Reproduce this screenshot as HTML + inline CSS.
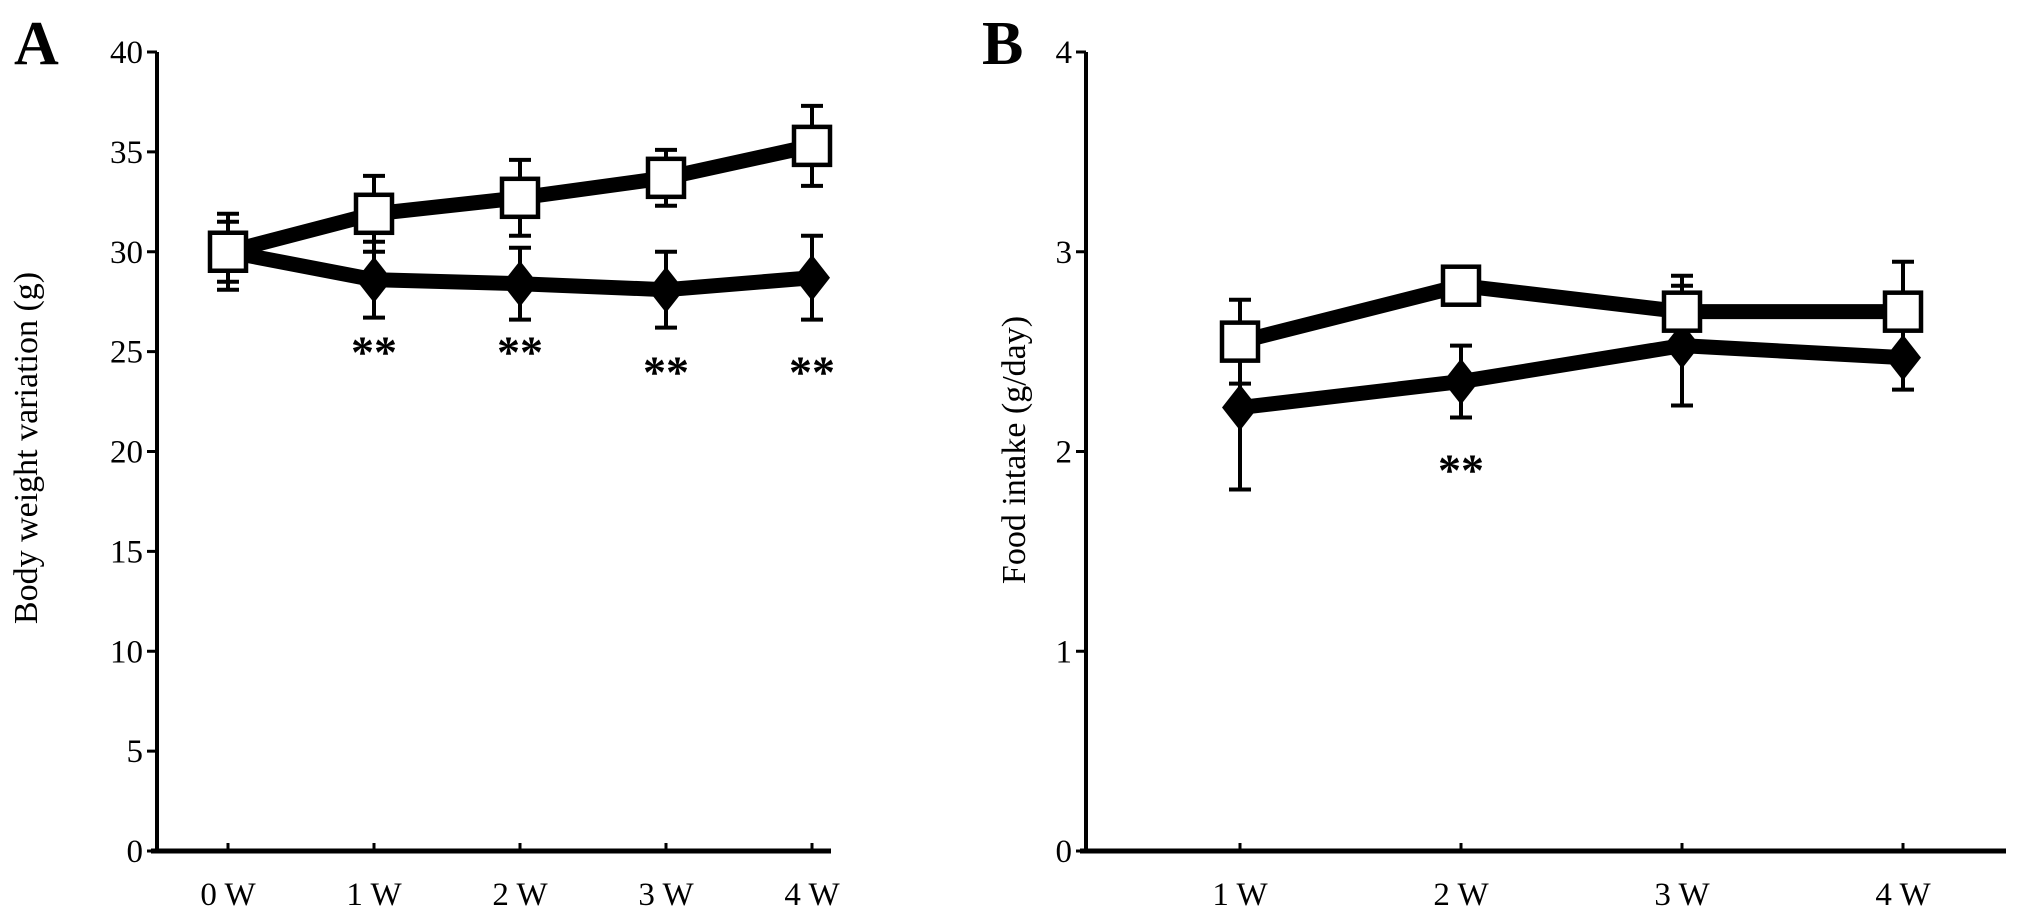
<!DOCTYPE html>
<html><head><meta charset="utf-8"><style>
html,body{margin:0;padding:0;background:#fff}
svg{display:block}
text{font-family:"Liberation Serif",serif;fill:#000}
</style></head><body>
<svg id="fig" width="2031" height="914" viewBox="0 0 2031 914">
<text x="14" y="64" font-size="62" font-weight="bold">A</text>
<text x="982" y="64" font-size="62" font-weight="bold">B</text>
<text transform="translate(37,448) rotate(-90)" text-anchor="middle" font-size="34">Body weight variation (g)</text>
<text transform="translate(1025,450) rotate(-90)" text-anchor="middle" font-size="34">Food intake (g/day)</text>
</svg>
<script>
// Panel A data
const catsA = ["0 W","1 W","2 W","3 W","4 W"];
const ctrlA = [30.0, 31.9, 32.7, 33.7, 35.3];
const ctrlErrA = [1.5, 1.9, 1.9, 1.4, 2.0];
const trtA = [30.0, 28.6, 28.4, 28.1, 28.7];
const trtErrA = [1.9, 1.9, 1.8, 1.9, 2.1];
const ticksA = [0,5,10,15,20,25,30,35,40];
const starsA = [null, 25.2, 25.2, 24.2, 24.2];
// Panel B data
const catsB = ["1 W","2 W","3 W","4 W"];
const ctrlB = [2.55, 2.83, 2.70, 2.70];
const ctrlErrB = [0.21, 0.09, 0.18, 0.25];
const trtB = [2.22, 2.35, 2.53, 2.47];
const trtErrB = [0.41, 0.18, 0.30, 0.16];
const ticksB = [0,1,2,3,4];
const starsB = [null, 1.93, null, null];

const NS="http://www.w3.org/2000/svg";
const svg=document.getElementById('fig');
function mk(tag,attrs,parent){const e=document.createElementNS(NS,tag);for(const k in attrs)e.setAttribute(k,attrs[k]);(parent||svg).appendChild(e);return e;}

function panel(p){
  const g=mk('g',{});
  
  
  const y=v=>851-(v-p.ymin)/(p.ymax-p.ymin)*799;
  const x=i=>p.x0+i*p.dx;
  const ya=mk('line',{x1:p.ax,y1:52,x2:p.ax,y2:853,stroke:'#000','stroke-width':4},g);
  
  
  const xa=mk('line',{x1:p.ax-6,y1:851,x2:p.xend,y2:851,stroke:'#000','stroke-width':5},g);
  
  
  p.ticks.forEach(t=>{
    mk('line',{x1:p.ax-10,y1:y(t),x2:p.ax,y2:y(t),stroke:'#000','stroke-width':3},g);
    const tx=mk('text',{x:p.ax-14,y:y(t)+11,'text-anchor':'end','font-size':33},g);
    tx.textContent=t;
    
    
  });
  p.cats.forEach((c,i)=>{
    mk('line',{x1:x(i),y1:851,x2:x(i),y2:843,stroke:'#000','stroke-width':3},g);
    const tx=mk('text',{x:x(i),y:905,'text-anchor':'middle','font-size':33},g);
    tx.textContent=c;
    
    
  });
  function err(vals,errs,name){
    vals.forEach((v,i)=>{
      const e=mk('path',{d:`M${x(i)},${y(v-errs[i])}V${y(v+errs[i])}M${x(i)-11},${y(v-errs[i])}h22M${x(i)-11},${y(v+errs[i])}h22`,stroke:'#000','stroke-width':4,fill:'none'},g);
      
      
    });
  }
  err(p.ctrl,p.ctrlErr,'control-error-bar');
  err(p.trt,p.trtErr,'treated-error-bar');
  function line(vals,name){
    const l=mk('polyline',{points:vals.map((v,i)=>x(i)+','+y(v)).join(' '),stroke:'#000','stroke-width':15,fill:'none','stroke-linejoin':'round'},g);
    
    
  }
  line(p.trt,'treated-line');
  line(p.ctrl,'control-line');
  p.trt.forEach((v,i)=>{
    const d=mk('path',{d:`M${x(i)},${y(v)-23}L${x(i)+18},${y(v)}L${x(i)},${y(v)+23}L${x(i)-18},${y(v)}Z`,fill:'#000'},g);
    
    
  });
  p.ctrl.forEach((v,i)=>{
    const s=mk('rect',{x:x(i)-18,y:y(v)-19,width:36,height:38,fill:'#fff',stroke:'#000','stroke-width':4.5},g);
    
    
  });
  p.stars.forEach((v,i)=>{
    if(v===null)return;
    const t=mk('text',{x:x(i),y:y(v)+20,'text-anchor':'middle','font-size':46,'font-weight':'bold','font-family':'Liberation Sans, sans-serif'},g);
    t.textContent='**';
    
    
  });
}
panel({name:'panel-a',ax:157,xend:831,x0:228,dx:146,ymin:0,ymax:40,ticks:ticksA,cats:catsA,ctrl:ctrlA,ctrlErr:ctrlErrA,trt:trtA,trtErr:trtErrA,stars:starsA});
panel({name:'panel-b',ax:1086,xend:2006,x0:1240,dx:221,ymin:0,ymax:4,ticks:ticksB,cats:catsB,ctrl:ctrlB,ctrlErr:ctrlErrB,trt:trtB,trtErr:trtErrB,stars:starsB});
</script>
</body></html>
